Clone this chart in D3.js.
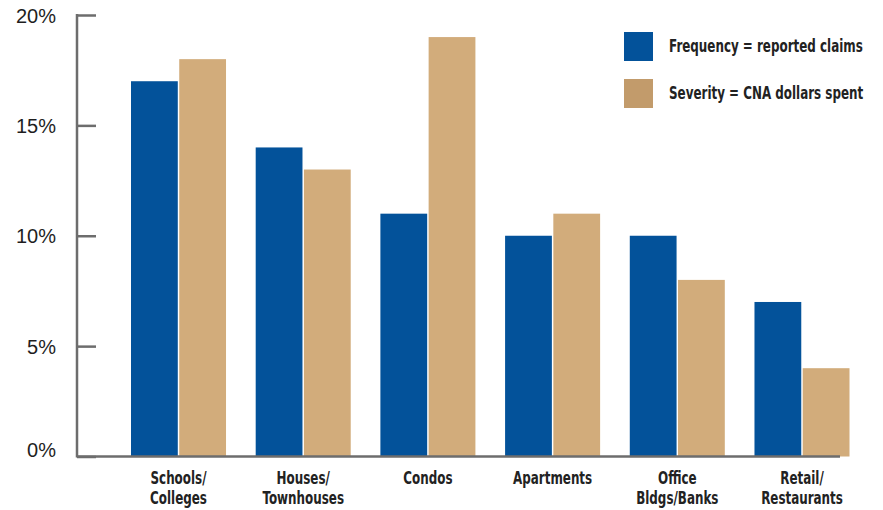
<!DOCTYPE html>
<html>
<head>
<meta charset="utf-8">
<script src="https://cdn.jsdelivr.net/npm/d3@7"></script>
<style>
  body { margin: 0; background: #fff; }
  svg { display: block; }
  .cond { font-family: "DejaVu Sans", sans-serif; font-weight: bold; }
</style>
</head>
<body>
<div id="chart"></div>
<script>
// categories, two lines each
const categories = ["Schools/\nColleges", "Houses/\nTownhouses", "Condos", "Apartments", "Office\nBldgs/Banks", "Retail/\nRestaurants"]
const seriesNames = ["Frequency = reported claims", "Severity = CNA dollars spent"]
// percent values
const frequency = [17, 14, 11, 10, 10, 7]
const severity = [18, 13, 19, 11, 8, 4]
const yTicks = [0, 5, 10, 15, 20]

const barColors = ["#03529a", "#d2ac7b"]
const legendColors = ["#03529a", "#c29b6b"]

const W = 883, H = 510
const margin = { top: 15, left: 77, bottom: 53, right: 33 }

const svg = d3.select("#chart")
  .append("svg")
  .attr("width", W)
  .attr("height", H)

// no condensed font installed, so squeeze the bold one horizontally
// width of the first legend line in the reference is about 194px
const probe = svg.append("text")
  .attr("class", "cond")
  .style("font-size", "18px")
  .text(seriesNames[0])
const squeeze = 194 / probe.node().getComputedTextLength()
probe.remove()

const y = d3.scaleLinear()
  .domain([0, 20])
  .range([H - margin.bottom - 0.5, margin.top])

const x0 = d3.scaleBand()
  .domain(categories)
  .range([131, 849.5])
  .paddingInner(0.238)
  .paddingOuter(0)

const x1 = d3.scaleBand()
  .domain([0, 1])
  .range([0, x0.bandwidth()])
  .paddingInner(0.03)

// bars
const rows = categories.map((c, i) => ({ cat: c, vals: [frequency[i], severity[i]] }))

const groups = svg.selectAll("g.grp")
  .data(rows)
  .enter()
  .append("g")
  .attr("class", "grp")
  .attr("transform", d => `translate(${x0(d.cat)},0)`)

groups.selectAll("rect")
  .data(d => d.vals.map((v, k) => ({ k: k, v: v })))
  .enter()
  .append("rect")
  .attr("x", d => x1(d.k))
  .attr("y", d => y(d.v))
  .attr("width", x1.bandwidth())
  .attr("height", d => y(0) - y(d.v))
  .attr("fill", d => barColors[d.k])

// y axis with ticks pointing inward
const yAxis = svg.append("g")
  .attr("transform", `translate(${margin.left},0)`)
  .call(d3.axisRight(y).tickValues(yTicks).tickSize(19).tickFormat(d => d + "%"))

yAxis.select(".domain").remove()
yAxis.selectAll(".tick line").attr("stroke", "#6d6d6d").attr("stroke-width", 2.5)
yAxis.selectAll(".tick text")
  .attr("x", -21)
  .attr("text-anchor", "end")
  .attr("dy", d => d === 0 ? "0.02em" : "0.35em")
  .attr("fill", "#1e1e1e")
  .style("font-family", "'Liberation Sans', Arial, sans-serif")
  .style("font-size", "20px")

yAxis.append("line")
  .attr("x1", 0).attr("x2", 0)
  .attr("y1", y(20) - 1).attr("y2", y(0) + 1)
  .attr("stroke", "#6d6d6d")
  .attr("stroke-width", 2.5)

// baseline
svg.append("line")
  .attr("x1", margin.left)
  .attr("x2", 840)
  .attr("y1", y(0))
  .attr("y2", y(0))
  .attr("stroke", "#6d6d6d")
  .attr("stroke-width", 2.5)

// category labels
const labels = svg.append("g")
  .selectAll("text")
  .data(categories)
  .enter()
  .append("text")
  .attr("class", "cond")
  .attr("text-anchor", "middle")
  .attr("transform", d => `translate(${x0(d) + x0.bandwidth() / 2},${y(0) + 27}) scale(${squeeze},1)`)
  .attr("fill", "#222")
  .style("font-size", "18px")

labels.selectAll("tspan")
  .data(d => d.split("\n"))
  .enter()
  .append("tspan")
  .attr("x", 0)
  .attr("dy", (d, i) => i === 0 ? 0 : 21)
  .text(d => d)

// legend
const legend = svg.append("g")
  .selectAll("g")
  .data(seriesNames)
  .enter()
  .append("g")
  .attr("transform", (d, i) => `translate(624,${32 + i * 47})`)

legend.append("rect")
  .attr("width", 29)
  .attr("height", 29)
  .attr("fill", (d, i) => legendColors[i])

legend.append("text")
  .attr("class", "cond")
  .attr("transform", `translate(45,20) scale(${squeeze},1)`)
  .attr("fill", "#222")
  .style("font-size", "18px")
  .text(d => d)
</script>
</body>
</html>
